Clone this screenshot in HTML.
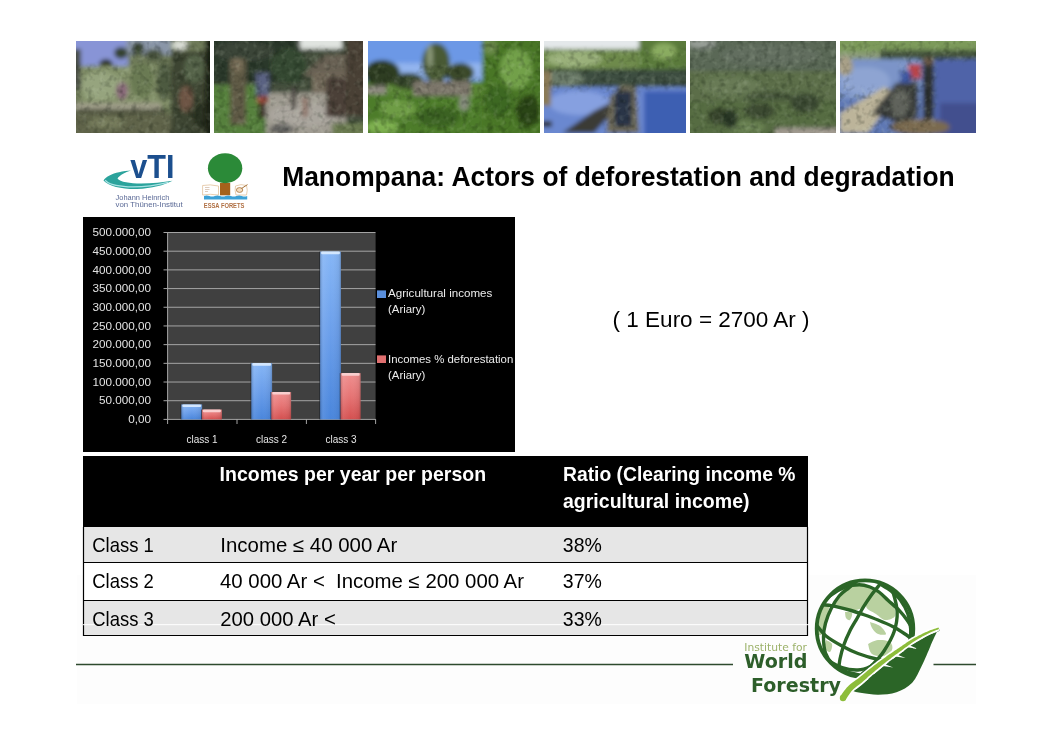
<!DOCTYPE html>
<html><head><meta charset="utf-8"><title>Manompana: Actors of deforestation and degradation</title>
<style>
html,body{margin:0;padding:0;background:#fff;width:1053px;height:745px;overflow:hidden}
svg{display:block}
text{font-family:"Liberation Sans",Arial,sans-serif}
.w{font-family:"DejaVu Sans",Verdana,sans-serif}
</style></head><body>
<svg width="1053" height="745" viewBox="0 0 1053 745">
<defs>
<filter id="bl" x="-5%" y="-5%" width="110%" height="110%"><feGaussianBlur stdDeviation="2.2"/></filter>
<filter id="bl2" x="-5%" y="-5%" width="110%" height="110%"><feGaussianBlur stdDeviation="1.2"/></filter>
<filter id="tx1" x="0" y="0" width="100%" height="100%" color-interpolation-filters="sRGB"><feTurbulence type="fractalNoise" baseFrequency="0.16" numOctaves="2" seed="4"/><feColorMatrix type="matrix" values="0 0 0 0 0  0 0 0 0 0.04  0 0 0 0 0  2.6 0 0 0 -1.25"/></filter>
<filter id="tx2" x="0" y="0" width="100%" height="100%" color-interpolation-filters="sRGB"><feTurbulence type="fractalNoise" baseFrequency="0.16" numOctaves="2" seed="9"/><feColorMatrix type="matrix" values="0 0 0 0 0.9  0 0 0 0 0.95  0 0 0 0 0.85  2.6 0 0 0 -1.3"/></filter>
<clipPath id="c1"><rect x="76" y="41" width="134" height="92"/></clipPath>
<clipPath id="c2"><rect x="214" y="41" width="149" height="92"/></clipPath>
<clipPath id="c3"><rect x="368" y="41" width="172" height="92"/></clipPath>
<clipPath id="c4"><rect x="544" y="41" width="142" height="92"/></clipPath>
<clipPath id="c5"><rect x="690" y="41" width="146" height="92"/></clipPath>
<clipPath id="c6"><rect x="840" y="41" width="136" height="92"/></clipPath>
<clipPath id="cg"><circle cx="865" cy="628.7" r="48.3"/></clipPath>
<linearGradient id="gb" x1="0" x2="0" y1="0" y2="1">
<stop offset="0" stop-color="#86b6f6"/><stop offset="0.5" stop-color="#6a9eea"/><stop offset="1" stop-color="#4a86dc"/></linearGradient>
<linearGradient id="gr" x1="0" x2="0" y1="0" y2="1">
<stop offset="0" stop-color="#f09090"/><stop offset="0.5" stop-color="#e67474"/><stop offset="1" stop-color="#d45050"/></linearGradient>
<linearGradient id="gh" x1="0" x2="1" y1="0" y2="0">
<stop offset="0" stop-color="#000" stop-opacity="0.18"/><stop offset="0.15" stop-color="#fff" stop-opacity="0.08"/><stop offset="0.5" stop-color="#fff" stop-opacity="0"/><stop offset="0.9" stop-color="#000" stop-opacity="0.06"/><stop offset="1" stop-color="#000" stop-opacity="0.2"/></linearGradient>
</defs>

<!-- faint footer panel -->
<rect x="77" y="575" width="899" height="129" fill="#fdfdfd"/>

<!-- PHOTOS -->
<g id="photos">
<g clip-path="url(#c1)"><g filter="url(#bl)">
<rect x="70" y="35" width="146" height="104" fill="#6e7a58"/>
<rect x="70" y="35" width="58" height="31" fill="#8894d6"/>
<rect x="126" y="35" width="45" height="20" fill="#8a96a8"/>
<ellipse cx="180" cy="45" rx="8" ry="5" fill="#d8dcd4"/>
<rect x="70" y="49" width="11" height="40" fill="#4a4e44"/>
<ellipse cx="106" cy="65" rx="7" ry="6" fill="#2a3220"/>
<ellipse cx="121" cy="53" rx="7" ry="6" fill="#34422e"/>
<ellipse cx="138" cy="49" rx="6" ry="7" fill="#3a4630"/>
<ellipse cx="154" cy="55" rx="9" ry="6" fill="#44503a"/>
<rect x="81" y="66" width="90" height="40" fill="#84926a"/>
<ellipse cx="101" cy="86" rx="20" ry="14" fill="#96a47e"/>
<ellipse cx="142" cy="81" rx="12" ry="18" fill="#6a7a52"/>
<ellipse cx="122" cy="91" rx="6" ry="9" fill="#8a6a7a"/>
<rect x="171" y="51" width="45" height="88" fill="#3c4430"/>
<ellipse cx="194" cy="69" rx="10" ry="14" fill="#556448"/>
<ellipse cx="186" cy="99" rx="7" ry="13" fill="#6e5444"/>
<ellipse cx="201" cy="116" rx="8" ry="14" fill="#2a3020"/>
<ellipse cx="164" cy="81" rx="8" ry="20" fill="#4e5a40"/>
<rect x="70" y="103" width="91" height="6" fill="#9e9c88"/>
<rect x="70" y="109" width="96" height="5" fill="#50523e"/>
<rect x="70" y="114" width="101" height="25" fill="#5e6448"/>
<ellipse cx="106" cy="123" rx="18" ry="6" fill="#767c5c"/>
<rect x="205" y="35" width="11" height="104" fill="#1c2218"/>
</g>
<mask id="m1"><rect x="76" y="41" width="134" height="92" fill="#fff"/>
<rect x="71" y="36" width="58" height="29" fill="#000" filter="url(#bl)"/>
</mask>
<g mask="url(#m1)">
<rect x="76" y="41" width="134" height="92" filter="url(#tx1)" opacity="0.25"/>
<rect x="76" y="41" width="134" height="92" filter="url(#tx2)" opacity="0.15"/>
</g>
</g>
<g clip-path="url(#c2)"><g filter="url(#bl)">
<rect x="208" y="35" width="161" height="104" fill="#44503e"/>
<rect x="208" y="35" width="94" height="48" fill="#2c382c"/>
<ellipse cx="244" cy="51" rx="30" ry="10" fill="#3a4438"/>
<ellipse cx="289" cy="66" rx="18" ry="18" fill="#364a30"/>
<rect x="300" y="35" width="42" height="14" fill="#e0e4e0"/>
<polygon points="302.0,76.0 324.0,55.0 354.0,53.0 354.0,76.0" fill="#686052"/>
<rect x="312" y="73" width="42" height="24" fill="#72695a"/>
<rect x="346" y="35" width="23" height="81" fill="#483f36"/>
<rect x="208" y="85" width="58" height="54" fill="#56803e"/>
<rect x="266" y="93" width="80" height="46" fill="#a09c92"/>
<ellipse cx="304" cy="115" rx="35" ry="12" fill="#aaa69e"/>
<ellipse cx="282" cy="129" rx="12" ry="5" fill="#5a5a58"/>
<rect x="332" y="123" width="37" height="16" fill="#6a7a50"/>
<rect x="230" y="59" width="16" height="66" fill="#5e5a44"/>
<ellipse cx="237" cy="65" rx="6" ry="7" fill="#7a705a"/>
<rect x="256" y="73" width="13" height="24" fill="#5a6282"/>
<rect x="257" y="96" width="11" height="7" fill="#944a3a"/>
<rect x="259" y="103" width="7" height="15" fill="#3a3028"/>
<rect x="326" y="77" width="20" height="40" fill="#4c4038"/>
<rect x="291" y="87" width="5" height="22" fill="#4a4440"/>
<rect x="302" y="97" width="6" height="20" fill="#8e766a"/>
</g>
<mask id="m2"><rect x="214" y="41" width="149" height="92" fill="#fff"/>
<rect x="300" y="36" width="42" height="12" fill="#000" filter="url(#bl)"/>
</mask>
<g mask="url(#m2)">
<rect x="214" y="41" width="149" height="92" filter="url(#tx1)" opacity="0.25"/>
<rect x="214" y="41" width="149" height="92" filter="url(#tx2)" opacity="0.15"/>
</g>
</g>
<g clip-path="url(#c3)"><g filter="url(#bl)">
<rect x="362" y="35" width="184" height="104" fill="#5a8434"/>
<rect x="362" y="35" width="126" height="46" fill="#6c98e6"/>
<rect x="362" y="63" width="121" height="16" fill="#92b4ee"/>
<ellipse cx="436" cy="63" rx="14" ry="20" fill="#4a5a36"/>
<ellipse cx="430" cy="56" rx="3" ry="12" fill="#8a9878"/>
<ellipse cx="460" cy="73" rx="14" ry="10" fill="#3a4a2a"/>
<ellipse cx="382" cy="73" rx="18" ry="13" fill="#2e3e24"/>
<ellipse cx="408" cy="81" rx="16" ry="8" fill="#34442a"/>
<rect x="482" y="35" width="64" height="104" fill="#4a7628"/>
<ellipse cx="490" cy="47" rx="8" ry="8" fill="#6a8a48"/>
<ellipse cx="516" cy="69" rx="16" ry="20" fill="#72a048"/>
<ellipse cx="498" cy="101" rx="14" ry="16" fill="#3e6822"/>
<ellipse cx="528" cy="111" rx="12" ry="16" fill="#2a4418"/>
<rect x="413" y="81" width="58" height="15" fill="#7c766a"/>
<rect x="362" y="86" width="24" height="8" fill="#8e8a80"/>
<rect x="362" y="96" width="120" height="43" fill="#4e7c2c"/>
<ellipse cx="398" cy="109" rx="18" ry="9" fill="#6e9c44"/>
<ellipse cx="438" cy="117" rx="22" ry="10" fill="#3a6220"/>
<ellipse cx="464" cy="103" rx="5" ry="8" fill="#8a9080"/>
<ellipse cx="382" cy="127" rx="16" ry="7" fill="#7eb050"/>
</g>
<mask id="m3"><rect x="368" y="41" width="172" height="92" fill="#fff"/>
<rect x="363" y="36" width="118" height="28" fill="#000" filter="url(#bl)"/>
<rect x="388" y="61" width="30" height="14" fill="#000" filter="url(#bl)"/>
<rect x="463" y="61" width="20" height="16" fill="#000" filter="url(#bl)"/>
</mask>
<g mask="url(#m3)">
<rect x="368" y="41" width="172" height="92" filter="url(#tx1)" opacity="0.25"/>
<rect x="368" y="41" width="172" height="92" filter="url(#tx2)" opacity="0.15"/>
</g>
</g>
<g clip-path="url(#c4)"><g filter="url(#bl)">
<rect x="538" y="35" width="154" height="104" fill="#5e7ec6"/>
<rect x="538" y="35" width="154" height="15" fill="#e4e8ea"/>
<rect x="538" y="49" width="154" height="22" fill="#6e8a4c"/>
<ellipse cx="574" cy="59" rx="28" ry="8" fill="#9ab07a"/>
<rect x="639" y="35" width="53" height="34" fill="#5a7a3a"/>
<ellipse cx="664" cy="51" rx="12" ry="8" fill="#8aac60"/>
<rect x="538" y="69" width="154" height="18" fill="#3e4e40"/>
<ellipse cx="564" cy="79" rx="20" ry="8" fill="#6a7a68"/>
<rect x="538" y="87" width="154" height="52" fill="#6a88d0"/>
<ellipse cx="579" cy="103" rx="30" ry="12" fill="#86a0e0"/>
<rect x="644" y="91" width="48" height="48" fill="#3e5eb2"/>
<rect x="538" y="71" width="13" height="35" fill="#8a7a56"/>
<polygon points="562.0,133.0 594.0,111.0 610.0,103.0 614.0,111.0 594.0,133.0" fill="#3a3a36"/>
<polygon points="606.0,133.0 610.0,96.0 622.0,85.0 636.0,87.0 639.0,133.0" fill="#6e6a58"/>
<rect x="614" y="91" width="18" height="36" fill="#2c3446"/>
<rect x="538" y="121" width="14" height="6" fill="#303030"/>
</g>
<mask id="m4"><rect x="544" y="41" width="142" height="92" fill="#fff"/>
<rect x="539" y="36" width="152" height="13" fill="#000" filter="url(#bl)"/>
<rect x="539" y="91" width="65" height="50" fill="#000" filter="url(#bl)"/>
<rect x="639" y="89" width="55" height="50" fill="#000" filter="url(#bl)"/>
</mask>
<g mask="url(#m4)">
<rect x="544" y="41" width="142" height="92" filter="url(#tx1)" opacity="0.25"/>
<rect x="544" y="41" width="142" height="92" filter="url(#tx2)" opacity="0.15"/>
</g>
</g>
<g clip-path="url(#c5)"><g filter="url(#bl)">
<rect x="684" y="35" width="158" height="104" fill="#56664a"/>
<rect x="684" y="35" width="158" height="36" fill="#5a6856"/>
<ellipse cx="702" cy="44" rx="14" ry="4" fill="#9aa09a"/>
<ellipse cx="770" cy="55" rx="50" ry="10" fill="#626e5e"/>
<rect x="684" y="71" width="158" height="30" fill="#5c6e4a"/>
<ellipse cx="730" cy="86" rx="30" ry="10" fill="#687a54"/>
<ellipse cx="770" cy="99" rx="25" ry="8" fill="#46563a"/>
<rect x="684" y="101" width="158" height="38" fill="#566c42"/>
<ellipse cx="720" cy="116" rx="12" ry="8" fill="#34422a"/>
<ellipse cx="760" cy="111" rx="15" ry="8" fill="#3c4c30"/>
<ellipse cx="805" cy="103" rx="15" ry="10" fill="#3a4a30"/>
<ellipse cx="745" cy="127" rx="20" ry="6" fill="#6a8252"/>
<rect x="775" y="128" width="67" height="11" fill="#a09a90"/>
<ellipse cx="730" cy="119" rx="8" ry="10" fill="#2a3826"/>
</g>
<rect x="690" y="41" width="146" height="92" filter="url(#tx1)" opacity="0.25"/>
<rect x="690" y="41" width="146" height="92" filter="url(#tx2)" opacity="0.15"/>
</g>
<g clip-path="url(#c6)"><g filter="url(#bl)">
<rect x="834" y="35" width="148" height="104" fill="#5e78b4"/>
<rect x="834" y="35" width="148" height="17" fill="#7c9a5a"/>
<rect x="880" y="50" width="102" height="10" fill="#44543e"/>
<rect x="834" y="52" width="46" height="8" fill="#8a9a78"/>
<rect x="834" y="59" width="86" height="40" fill="#7c94c8"/>
<ellipse cx="865" cy="81" rx="25" ry="14" fill="#8ea4d2"/>
<rect x="935" y="59" width="47" height="80" fill="#5064a8"/>
<rect x="940" y="103" width="42" height="36" fill="#42508e"/>
<ellipse cx="920" cy="127" rx="30" ry="8" fill="#7a6a50"/>
<polygon points="840.0,133.0 840.0,113.0 884.0,87.0 898.0,93.0 868.0,133.0" fill="#bcb49a"/>
<polygon points="872.0,113.0 896.0,83.0 918.0,81.0 918.0,117.0 898.0,123.0" fill="#3e403c"/>
<ellipse cx="900" cy="103" rx="9" ry="14" fill="#60645c"/>
<rect x="908" y="64" width="13" height="15" fill="#b8444a"/>
<rect x="900" y="71" width="11" height="12" fill="#3e56a0"/>
<rect x="923" y="59" width="11" height="60" fill="#2e3232"/>
<ellipse cx="928" cy="61" rx="6" ry="4" fill="#6a5a48"/>
<ellipse cx="845" cy="66" rx="8" ry="10" fill="#a8a088"/>
</g>
<mask id="m6"><rect x="840" y="41" width="136" height="92" fill="#fff"/>
<rect x="850" y="59" width="50" height="28" fill="#000" filter="url(#bl)"/>
<rect x="936" y="61" width="45" height="80" fill="#000" filter="url(#bl)"/>
</mask>
<g mask="url(#m6)">
<rect x="840" y="41" width="136" height="92" filter="url(#tx1)" opacity="0.25"/>
<rect x="840" y="41" width="136" height="92" filter="url(#tx2)" opacity="0.15"/>
</g>
</g>
</g>

<!-- vTI logo -->
<g id="vti">
<path d="M103.5,180.5 C106,176.5 112,173.6 119,172.2 C123,171.3 127.5,170.8 131,170.6 C125,172.5 119.5,175.5 117.5,178.6 C120,182.2 130,183.6 141,183.6 C152,183.5 163,182.4 172.5,180.8 C164,185.2 152,188.6 137,189 C122,189.2 109,186.6 103.5,180.5 Z" fill="#2ba39c"/>
<path d="M105.2,180.2 C108,184 116,186.2 128,186.8 C142,187.3 156,185.4 168,182.3" fill="none" stroke="#a8e2e4" stroke-width="1.2"/>
<text x="130.3" y="178" font-size="32.6" font-weight="bold" fill="#1c4f8e" textLength="44.2" lengthAdjust="spacingAndGlyphs">vTI</text>
<text x="115.6" y="199.5" font-size="7" fill="#5b6a96" textLength="53.7" lengthAdjust="spacingAndGlyphs">Johann Heinrich</text>
<text x="115.6" y="207.3" font-size="7" fill="#5b6a96" textLength="67" lengthAdjust="spacingAndGlyphs">von Thünen-Institut</text>
</g>

<!-- ESSA logo -->
<g id="essa">
<path d="M202.6,185.5 Q210,184 218.5,186 L218.5,195 Q210,193.6 202.6,195 Z" fill="#fff" stroke="#e2c29c" stroke-width="0.8"/>
<path d="M205,187.5h4.5M205,189.5h4.5M205,191.5h3" stroke="#c8a890" stroke-width="0.6"/>
<path d="M235.5,186 Q241,183.5 246.5,185.5 Q248,190 246.5,195 L236,195 Q234.5,190 235.5,186 Z" fill="#fff" stroke="#e2c29c" stroke-width="0.8"/>
<ellipse cx="239.6" cy="190" rx="3.2" ry="2.4" fill="#f3dcc0" stroke="#a8743c" stroke-width="0.8"/>
<path d="M241.5,188.5 L247.5,184.6" stroke="#a8743c" stroke-width="1"/>
<rect x="220" y="183" width="10.2" height="12.3" fill="#a5621b"/>
<ellipse cx="225.1" cy="168.2" rx="17.2" ry="15" fill="#2b8a38"/>
<path d="M204,196 q2.7,-1 5.4,0 t5.4,0 t5.4,0 t5.4,0 t5.4,0 t5.4,0 t5.4,0 t5.4,0 V199.5 H204 Z" fill="#3da1d6"/>
<text x="203.8" y="207.6" font-size="6.6" font-weight="bold" fill="#b07044" textLength="40.5" lengthAdjust="spacingAndGlyphs">ESSA FORETS</text>
</g>

<!-- Title -->
<text x="282.2" y="186" font-size="27.4" font-weight="bold" fill="#000" textLength="672.5" lengthAdjust="spacingAndGlyphs">Manompana: Actors of deforestation and degradation</text>

<!-- CHART -->
<g id="chart">
<rect x="83" y="217" width="432" height="235" fill="#000"/>
<rect x="167.6" y="232.5" width="208" height="186.9" fill="#404040"/>
<g stroke="#a4a4a4" stroke-width="1" fill="none">
<path d="M163.5,232.50H375.5M163.5,251.19H375.5M163.5,269.88H375.5M163.5,288.57H375.5M163.5,307.26H375.5M163.5,325.95H375.5M163.5,344.64H375.5M163.5,363.33H375.5M163.5,382.02H375.5M163.5,400.71H375.5M163.5,419.40H375.5"/>
<path d="M167.6,232V424M237,419V424M306.4,419V424M375.6,419V424"/>
</g>
<g font-size="11.7" fill="#e2e2e2" text-anchor="end">
<text x="151" y="236.1">500.000,00</text>
<text x="151" y="254.8">450.000,00</text>
<text x="151" y="273.5">400.000,00</text>
<text x="151" y="292.2">350.000,00</text>
<text x="151" y="310.9">300.000,00</text>
<text x="151" y="329.6">250.000,00</text>
<text x="151" y="348.2">200.000,00</text>
<text x="151" y="366.9">150.000,00</text>
<text x="151" y="385.6">100.000,00</text>
<text x="151" y="404.3">50.000,00</text>
<text x="151" y="423.0">0,00</text>
</g>
<!-- bars -->
<rect x="180.5" y="404.4" width="1" height="15.0" fill="#1a1f28" opacity="0.7"/>
<rect x="181.3" y="404.4" width="20.8" height="15.0" fill="url(#gb)"/>
<rect x="181.3" y="404.4" width="20.8" height="15.0" fill="url(#gh)"/>
<rect x="182.3" y="404.4" width="18.8" height="2.6" rx="1" fill="#dcecff" opacity="0.9"/>
<rect x="201.1" y="409.6" width="1" height="9.8" fill="#1a1f28" opacity="0.7"/>
<rect x="201.9" y="409.6" width="20" height="9.8" fill="url(#gr)"/>
<rect x="201.9" y="409.6" width="20" height="9.8" fill="url(#gh)"/>
<rect x="202.9" y="409.6" width="18" height="2.6" rx="1" fill="#fbd6d6" opacity="0.9"/>
<rect x="250.5" y="363.1" width="1" height="56.3" fill="#1a1f28" opacity="0.7"/>
<rect x="251.3" y="363.1" width="20.8" height="56.3" fill="url(#gb)"/>
<rect x="251.3" y="363.1" width="20.8" height="56.3" fill="url(#gh)"/>
<rect x="252.3" y="363.1" width="18.8" height="2.6" rx="1" fill="#dcecff" opacity="0.9"/>
<rect x="270.5" y="392.0" width="1" height="27.4" fill="#1a1f28" opacity="0.7"/>
<rect x="271.3" y="392.0" width="19.8" height="27.4" fill="url(#gr)"/>
<rect x="271.3" y="392.0" width="19.8" height="27.4" fill="url(#gh)"/>
<rect x="272.3" y="392.0" width="17.8" height="2.6" rx="1" fill="#fbd6d6" opacity="0.9"/>
<rect x="319.3" y="251.6" width="1" height="167.8" fill="#1a1f28" opacity="0.7"/>
<rect x="320.1" y="251.6" width="20.8" height="167.8" fill="url(#gb)"/>
<rect x="320.1" y="251.6" width="20.8" height="167.8" fill="url(#gh)"/>
<rect x="321.1" y="251.6" width="18.8" height="2.6" rx="1" fill="#dcecff" opacity="0.9"/>
<rect x="339.8" y="373.1" width="1" height="46.3" fill="#1a1f28" opacity="0.7"/>
<rect x="340.6" y="373.1" width="20" height="46.3" fill="url(#gr)"/>
<rect x="340.6" y="373.1" width="20" height="46.3" fill="url(#gh)"/>
<rect x="341.6" y="373.1" width="18" height="2.6" rx="1" fill="#fbd6d6" opacity="0.9"/>
<g font-size="10" fill="#e6e6e6" text-anchor="middle">
<text x="202" y="442.7">class 1</text>
<text x="271.6" y="442.7">class 2</text>
<text x="341" y="442.7">class 3</text>
</g>
<rect x="377" y="290.4" width="9" height="7.6" fill="#5a8fdc"/>
<rect x="377" y="355.4" width="9" height="7.6" fill="#e07070"/>
<g font-size="11" fill="#ececec" lengthAdjust="spacingAndGlyphs">
<text x="388" y="296.8" textLength="104.3" lengthAdjust="spacingAndGlyphs">Agricultural incomes</text>
<text x="388" y="313.3" textLength="37.3" lengthAdjust="spacingAndGlyphs">(Ariary)</text>
<text x="388" y="362.8" textLength="125.3" lengthAdjust="spacingAndGlyphs">Incomes % deforestation</text>
<text x="388" y="378.6" textLength="37.3" lengthAdjust="spacingAndGlyphs">(Ariary)</text>
</g>
</g>

<!-- Euro -->
<text x="612.6" y="327" font-size="21.3" fill="#000" textLength="197" lengthAdjust="spacingAndGlyphs">( 1 Euro = 2700 Ar )</text>

<!-- TABLE -->
<g id="table">
<rect x="83" y="456" width="725" height="71" fill="#000"/>
<rect x="83" y="527" width="725" height="36" fill="#e6e6e6"/>
<rect x="83" y="563" width="725" height="37" fill="#fff"/>
<rect x="83" y="600" width="725" height="36" fill="#e6e6e6"/>
<g stroke="#000" stroke-width="1.2" fill="none">
<path d="M83.5,527V636M807.5,527V636M83,562.5H808M83,600.5H808M83,635.5H808"/>
</g>
<path d="M83,624.7H809" stroke="#fff" stroke-width="1"/>
<g font-size="19.3" font-weight="bold" fill="#fff">
<text x="219.6" y="480.8" textLength="266.5" lengthAdjust="spacingAndGlyphs">Incomes per year per person</text>
<text x="563" y="480.8" textLength="232.5" lengthAdjust="spacingAndGlyphs">Ratio (Clearing income %</text>
<text x="563" y="508" textLength="186.5" lengthAdjust="spacingAndGlyphs">agricultural income)</text>
</g>
<g font-size="19.8" fill="#000">
<text x="92.3" y="552" textLength="61.5" lengthAdjust="spacingAndGlyphs">Class 1</text>
<text x="220.3" y="552" textLength="177" lengthAdjust="spacingAndGlyphs">Income ≤ 40 000 Ar</text>
<text x="562.8" y="552" textLength="39" lengthAdjust="spacingAndGlyphs">38%</text>
<text x="92.3" y="588" textLength="61.5" lengthAdjust="spacingAndGlyphs">Class 2</text>
<text x="220" y="588" textLength="304" lengthAdjust="spacingAndGlyphs" xml:space="preserve">40 000 Ar &lt;  Income ≤ 200 000 Ar</text>
<text x="562.8" y="588" textLength="39" lengthAdjust="spacingAndGlyphs">37%</text>
<text x="92.3" y="625.5" textLength="61.5" lengthAdjust="spacingAndGlyphs">Class 3</text>
<text x="220.3" y="625.5" textLength="115.5" lengthAdjust="spacingAndGlyphs">200 000 Ar &lt;</text>
<text x="562.8" y="625.5" textLength="39" lengthAdjust="spacingAndGlyphs">33%</text>
</g>
</g>

<!-- footer lines -->
<path d="M76,664.5H733M933.5,664.5H976" stroke="#2e4a2e" stroke-width="1.3"/>

<!-- IWF logo -->
<g id="iwf">
<circle cx="865" cy="628.7" r="48.3" fill="#fff"/>
<g clip-path="url(#cg)">
<path d="M839.2,596.0C840.3,594.5 842.2,588.9 845.6,587.0C849.0,585.1 854.7,584.3 859.3,584.7C863.9,585.1 871.4,587.0 873.0,589.5C874.6,592.0 870.6,597.0 869.0,600.0C867.4,603.0 866.2,605.5 863.3,607.2C860.3,609.0 856.0,610.6 851.3,610.5C846.6,610.4 837.0,608.8 835.0,606.4C833.0,604.0 838.5,597.7 839.2,596.0Z" fill="#b9d1a0"/>
<path d="M873.0,589.5C875.0,590.6 881.7,593.6 885.0,596.0C888.3,598.4 891.3,600.7 893.0,604.0C894.7,607.3 896.3,613.3 895.0,616.0C893.7,618.7 888.2,620.3 885.0,620.0C881.8,619.7 879.2,616.3 876.0,614.0C872.8,611.7 866.5,610.1 866.0,606.0C865.5,601.9 871.8,592.2 873.0,589.5Z" fill="#b9d1a0"/>
<path d="M816.0,612.0C817.0,610.8 820.1,605.8 822.3,604.8C824.5,603.8 828.4,603.5 829.0,606.0C829.6,608.5 827.2,615.3 826.0,620.0C824.8,624.7 823.5,632.0 822.0,634.0C820.5,636.0 818.0,635.7 817.0,632.0C816.0,628.3 816.2,615.3 816.0,612.0Z" fill="#b9d1a0"/>
<path d="M868.0,644.0C869.7,643.3 874.3,640.3 878.0,640.0C881.7,639.7 887.7,640.3 890.0,642.0C892.3,643.7 893.0,647.7 892.0,650.0C891.0,652.3 887.3,655.3 884.0,656.0C880.7,656.7 874.7,656.0 872.0,654.0C869.3,652.0 868.7,645.7 868.0,644.0Z" fill="#b9d1a0"/>
<path d="M845.0,612.0C846.2,612.2 851.2,611.7 852.0,613.0C852.8,614.3 851.0,619.2 850.0,620.0C849.0,620.8 846.8,619.3 846.0,618.0C845.2,616.7 845.2,613.0 845.0,612.0Z" fill="#b9d1a0"/>
<path d="M870.0,622.0C871.7,622.7 877.3,624.0 880.0,626.0C882.7,628.0 886.3,632.7 886.0,634.0C885.7,635.3 880.3,635.0 878.0,634.0C875.7,633.0 873.3,630.0 872.0,628.0C870.7,626.0 870.3,623.0 870.0,622.0Z" fill="#b9d1a0"/>
<path d="M826.0,640.0C827.0,640.7 831.3,642.0 832.0,644.0C832.7,646.0 831.2,651.3 830.0,652.0C828.8,652.7 825.7,650.0 825.0,648.0C824.3,646.0 825.8,641.3 826.0,640.0Z" fill="#b9d1a0"/>
<g fill="none" stroke="#2b6527" stroke-width="3.4" stroke-linecap="round">
<path d="M822.0,604.0C823.2,602.7 825.6,598.8 829.5,596.0C833.4,593.2 840.6,588.9 845.6,587.0C850.6,585.1 855.2,584.7 859.3,584.7C863.4,584.7 866.7,585.8 870.0,587.0C873.3,588.2 876.0,589.8 879.0,592.0C882.0,594.2 884.8,597.3 888.2,600.4C891.6,603.5 896.3,607.4 899.4,610.7C902.5,614.0 904.6,616.6 907.0,620.0C909.4,623.4 912.8,629.2 914.0,631.0"/>
<path d="M812.0,605.0C813.7,605.0 818.5,604.6 822.3,604.8C826.1,605.0 830.2,605.4 835.0,606.4C839.8,607.4 846.6,609.1 851.3,610.5C856.0,611.9 858.8,612.9 863.3,614.5C867.8,616.1 873.1,618.0 878.0,620.0C882.9,622.0 888.2,624.2 892.7,626.5C897.2,628.8 901.1,631.4 905.0,634.0C908.9,636.6 914.2,640.7 916.0,642.0"/>
<path d="M812.0,622.0C812.7,622.5 814.1,622.7 816.4,625.0C818.7,627.3 821.7,632.5 826.0,636.0C830.3,639.5 836.7,643.1 842.0,646.0C847.3,648.9 851.9,651.2 858.0,653.5C864.1,655.8 872.0,658.2 878.5,659.5C885.0,660.8 891.4,660.9 897.0,661.0C902.6,661.1 909.5,660.2 912.0,660.0"/>
<path d="M818.0,652.0C819.3,653.2 822.0,656.4 826.0,659.0C830.0,661.6 836.7,665.9 842.0,667.7C847.3,669.5 853.3,670.2 858.0,670.0C862.7,669.8 866.7,668.2 870.4,666.5C874.1,664.8 878.4,661.1 880.0,660.0"/>
<path d="M884.0,577.0C883.2,578.3 881.6,581.7 879.5,584.7C877.4,587.7 874.1,591.2 871.4,595.0C868.7,598.8 865.7,603.3 863.3,607.2C860.9,611.1 859.3,614.5 857.0,618.5C854.7,622.5 851.8,627.0 849.6,631.4C847.4,635.8 845.4,640.4 843.8,645.0C842.2,649.6 840.9,654.5 840.0,659.0C839.1,663.5 838.8,668.5 838.5,672.0C838.2,675.5 838.5,678.7 838.5,680.0"/>
<path d="M888.0,583.0C888.8,584.4 891.2,586.4 892.7,591.2C894.2,596.0 897.0,605.1 897.2,611.9C897.4,618.7 896.2,625.5 894.0,632.0C891.8,638.5 887.4,645.7 884.0,651.0C880.6,656.3 877.2,659.8 873.5,663.6C869.8,667.4 863.9,672.3 862.0,674.0"/>
<path d="M880.0,584.0C881.8,585.2 887.6,588.3 891.0,591.0C894.4,593.7 897.6,596.2 900.4,600.0C903.2,603.8 906.2,609.2 907.9,614.0C909.6,618.8 910.4,624.5 910.7,629.0C911.0,633.5 910.6,637.5 909.8,641.0C909.0,644.5 906.6,648.5 906.0,650.0"/>
<path d="M856.0,582.0C854.8,583.0 851.6,585.6 848.8,587.9C846.0,590.2 842.2,592.5 839.2,596.0C836.2,599.5 833.4,604.2 831.1,608.8C828.8,613.3 826.8,618.6 825.5,623.3C824.2,628.0 823.5,632.0 823.5,637.0C823.5,642.0 823.9,648.4 825.5,653.0C827.1,657.6 829.6,661.4 833.0,664.5C836.4,667.6 841.5,670.0 846.0,671.7C850.5,673.5 857.7,674.5 860.0,675.0"/>
</g></g>
<circle cx="865" cy="628.7" r="48.3" fill="none" stroke="#2b6527" stroke-width="3.8"/>
<text class="w" x="744.3" y="651.1" font-size="10.1" fill="#9cb26a" textLength="62.7" lengthAdjust="spacingAndGlyphs">Institute for</text>
<text class="w" x="744.3" y="668.3" font-size="18.6" font-weight="bold" fill="#2d5e2a" textLength="63.2" lengthAdjust="spacingAndGlyphs">World</text>
<text class="w" x="751" y="691.8" font-size="18.6" font-weight="bold" fill="#2d5e2a" textLength="90" lengthAdjust="spacingAndGlyphs">Forestry</text>

<path d="M938.8,628.3C938.0,629.9 935.4,635.0 934.0,638.0C932.6,641.0 932.3,641.8 930.3,646.4C928.3,651.0 924.8,659.8 921.8,665.8C918.8,671.8 916.4,678.3 912.2,682.7C908.0,687.1 902.1,690.3 896.5,692.3C890.9,694.3 884.0,694.7 878.3,694.8C872.5,694.9 866.4,693.6 862.0,693.0C857.6,692.4 853.7,691.3 852.0,691.0 L856.5,689.0 L857.7,688.0 L859.0,687.0 L860.4,686.0 L861.7,684.9 L863.1,683.8 L864.3,682.7 L865.5,681.6 L866.7,680.6 L867.9,679.5 L869.1,678.5 L870.3,677.4 L871.5,676.4 L872.7,675.3 L874.0,674.2 L875.3,673.1 L876.6,672.0 L877.9,670.9 L879.3,669.8 L880.6,668.7 L881.9,667.6 L883.3,666.5 L884.6,665.4 L886.0,664.4 L887.4,663.3 L888.7,662.2 L890.1,661.2 L891.5,660.1 L892.9,659.1 L894.2,658.1 L895.5,657.1 L896.9,656.1 L898.2,655.2 L899.5,654.2 L900.8,653.3 L902.0,652.3 L903.3,651.4 L904.5,650.5 L905.8,649.6 L907.0,648.7 L908.1,647.8 L909.3,647.0 L910.4,646.2 L911.5,645.4 L912.6,644.6 L913.8,643.8 L914.9,643.1 L916.1,642.3 L917.3,641.6 L918.5,640.9 L919.7,640.2 L920.9,639.5 L922.1,638.9 L923.2,638.2 L924.3,637.6 L925.3,637.1 L926.3,636.5 L927.3,636.0 L928.2,635.5 L929.2,635.0 L930.1,634.6 L931.1,634.1 L932.2,633.7 L933.3,633.2 L934.6,632.7 L935.8,632.2 L937.0,631.8 L938.1,631.4 L939.0,631.0 L939.7,630.8Z" fill="#2b6527"/>
<path d="M881.2,665.8 L893.2,667.6 L883.9,663.7Z" fill="#fff"/>
<path d="M893.5,656.3 L905.5,658.1 L896.3,654.3Z" fill="#fff"/>
<path d="M906.1,647.1 L918.1,648.9 L908.9,645.1Z" fill="#fff"/>
<path d="M846.9,700.7 L847.5,699.9 L848.1,698.9 L848.9,697.7 L849.7,696.4 L850.6,695.1 L851.5,693.8 L852.4,692.7 L853.3,691.7 L854.2,690.8 L855.2,689.8 L856.4,688.8 L857.6,687.9 L858.9,686.9 L860.2,685.8 L861.6,684.8 L862.9,683.6 L864.2,682.6 L865.4,681.5 L866.6,680.4 L867.8,679.4 L869.0,678.3 L870.2,677.3 L871.4,676.2 L872.6,675.1 L873.9,674.1 L875.2,673.0 L876.5,671.8 L877.8,670.7 L879.1,669.6 L880.5,668.5 L881.8,667.4 L883.1,666.3 L884.5,665.3 L885.9,664.2 L887.2,663.1 L888.6,662.1 L890.0,661.0 L891.4,660.0 L892.8,658.9 L894.1,657.9 L895.4,656.9 L896.7,656.0 L898.1,655.0 L899.4,654.0 L900.6,653.1 L901.9,652.2 L903.2,651.3 L904.4,650.3 L905.7,649.4 L906.9,648.6 L908.0,647.7 L909.2,646.8 L910.3,646.0 L911.4,645.2 L912.5,644.4 L913.7,643.6 L914.8,642.9 L916.0,642.2 L917.2,641.4 L918.4,640.7 L919.6,640.0 L920.8,639.3 L922.0,638.7 L923.1,638.0 L924.2,637.4 L925.2,636.9 L926.2,636.3 L927.2,635.8 L928.1,635.3 L929.1,634.9 L930.0,634.4 L931.0,633.9 L932.1,633.5 L933.3,633.0 L934.5,632.5 L935.7,632.0 L936.9,631.6 L938.0,631.2 L938.9,630.8 L939.6,630.6 L938.0,626.0 L937.3,626.2 L936.4,626.5 L935.3,626.9 L934.1,627.3 L932.8,627.7 L931.5,628.2 L930.2,628.6 L929.0,629.1 L927.9,629.5 L926.8,630.0 L925.8,630.4 L924.7,630.9 L923.7,631.4 L922.7,631.9 L921.6,632.4 L920.5,633.0 L919.3,633.5 L918.1,634.2 L916.8,634.8 L915.5,635.5 L914.2,636.2 L912.9,636.9 L911.6,637.6 L910.3,638.4 L909.1,639.1 L907.8,639.9 L906.6,640.7 L905.4,641.5 L904.2,642.4 L903.0,643.2 L901.8,644.0 L900.6,644.9 L899.3,645.7 L898.0,646.6 L896.7,647.4 L895.4,648.3 L894.0,649.3 L892.6,650.2 L891.3,651.1 L889.9,652.1 L888.5,653.1 L887.1,654.0 L885.7,655.1 L884.2,656.1 L882.8,657.1 L881.3,658.2 L879.9,659.2 L878.5,660.3 L877.0,661.3 L875.6,662.4 L874.2,663.5 L872.8,664.6 L871.4,665.7 L870.1,666.7 L868.7,667.8 L867.4,668.9 L866.1,669.9 L864.8,670.9 L863.6,672.0 L862.3,673.0 L861.1,674.0 L859.9,675.0 L858.7,676.0 L857.5,677.0 L856.2,677.9 L855.0,678.8 L853.6,679.8 L852.2,680.8 L850.8,681.8 L849.4,682.9 L848.1,684.1 L846.7,685.3 L845.4,686.7 L844.2,688.2 L843.1,689.7 L842.0,691.1 L841.1,692.4 L840.2,693.6 L839.6,694.6 L839.1,695.3Z" fill="#fff"/>
<path d="M845.6,699.8 L846.1,699.0 L846.8,698.0 L847.6,696.8 L848.4,695.5 L849.3,694.2 L850.2,692.9 L851.2,691.6 L852.1,690.6 L853.1,689.6 L854.2,688.6 L855.4,687.6 L856.6,686.6 L857.9,685.6 L859.3,684.5 L860.6,683.5 L861.9,682.4 L863.2,681.3 L864.4,680.3 L865.6,679.2 L866.8,678.2 L867.9,677.1 L869.1,676.0 L870.3,675.0 L871.6,673.9 L872.9,672.8 L874.2,671.7 L875.5,670.6 L876.8,669.5 L878.1,668.4 L879.5,667.3 L880.8,666.2 L882.2,665.1 L883.5,664.0 L884.9,662.9 L886.3,661.8 L887.7,660.8 L889.1,659.7 L890.5,658.7 L891.8,657.6 L893.2,656.6 L894.5,655.6 L895.8,654.6 L897.1,653.7 L898.4,652.7 L899.7,651.8 L901.0,650.9 L902.3,649.9 L903.5,649.0 L904.7,648.1 L905.9,647.3 L907.1,646.4 L908.2,645.5 L909.4,644.7 L910.5,643.9 L911.7,643.1 L912.8,642.3 L914.0,641.5 L915.2,640.8 L916.4,640.0 L917.7,639.3 L918.9,638.6 L920.1,637.9 L921.3,637.3 L922.4,636.6 L923.5,636.0 L924.5,635.5 L925.5,634.9 L926.5,634.4 L927.4,633.9 L928.4,633.4 L929.4,632.9 L930.4,632.5 L931.5,632.0 L932.7,631.5 L934.0,631.0 L935.2,630.5 L936.4,630.1 L937.5,629.7 L938.4,629.3 L939.1,629.1 L938.5,627.5 L937.8,627.8 L936.9,628.0 L935.8,628.4 L934.6,628.8 L933.3,629.2 L932.0,629.7 L930.8,630.1 L929.6,630.5 L928.5,631.0 L927.5,631.4 L926.5,631.9 L925.4,632.3 L924.4,632.8 L923.4,633.3 L922.3,633.8 L921.2,634.4 L920.0,635.0 L918.8,635.6 L917.6,636.2 L916.3,636.9 L915.0,637.5 L913.7,638.3 L912.5,639.0 L911.2,639.7 L910.0,640.5 L908.7,641.2 L907.5,642.0 L906.3,642.8 L905.2,643.7 L903.9,644.5 L902.7,645.3 L901.5,646.2 L900.2,647.0 L898.9,647.9 L897.6,648.8 L896.3,649.7 L894.9,650.6 L893.6,651.5 L892.2,652.4 L890.8,653.4 L889.4,654.3 L888.0,655.3 L886.6,656.3 L885.2,657.4 L883.7,658.4 L882.3,659.4 L880.8,660.5 L879.4,661.5 L878.0,662.6 L876.6,663.7 L875.2,664.7 L873.8,665.8 L872.4,666.9 L871.1,668.0 L869.7,669.0 L868.4,670.1 L867.1,671.1 L865.8,672.2 L864.6,673.2 L863.4,674.2 L862.2,675.2 L860.9,676.2 L859.7,677.2 L858.5,678.2 L857.2,679.2 L855.9,680.1 L854.6,681.1 L853.2,682.1 L851.8,683.1 L850.5,684.1 L849.1,685.3 L847.9,686.4 L846.6,687.7 L845.5,689.2 L844.4,690.6 L843.3,692.0 L842.4,693.3 L841.6,694.5 L840.9,695.5 L840.4,696.2Z" fill="#8dbd3a"/>
<circle cx="843" cy="698" r="3.2" fill="#8dbd3a"/>
</g>

</svg>
</body></html>
